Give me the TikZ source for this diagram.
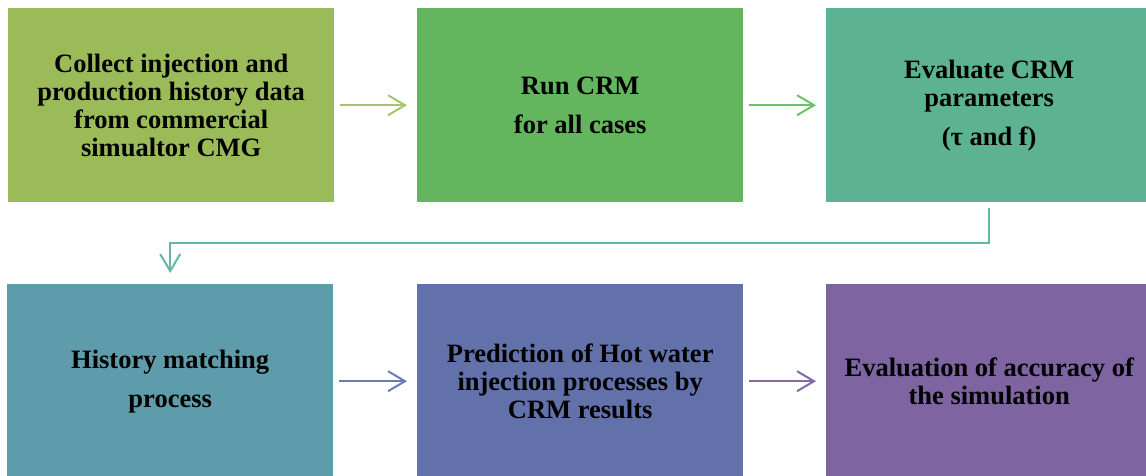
\documentclass[tikz,border=0pt]{standalone}
\usepackage{fontspec}
\setmainfont{Liberation Serif}
\usetikzlibrary{arrows.meta}
\definecolor{c1}{HTML}{9BBB59}
\definecolor{c2}{HTML}{63B65E}
\definecolor{c3}{HTML}{5CB292}
\definecolor{c4}{HTML}{5E9CAB}
\definecolor{c5}{HTML}{6271AA}
\definecolor{c6}{HTML}{7E64A0}
\definecolor{a1}{HTML}{A7C46C}
\definecolor{a2}{HTML}{6CC06A}
\definecolor{a3}{HTML}{63B7A8}
\definecolor{a4}{HTML}{6B7CB4}
\definecolor{a5}{HTML}{8468AA}
\tikzset{
  box/.style={rectangle, draw=none, minimum width=326pt, minimum height=194pt, inner sep=0pt,
    anchor=north west, align=center,
    font=\fontsize{26.5}{28}\selectfont\bfseries},
  conn/.style={line width=2pt, -{Straight Barb[length=17pt,width=20pt,line width=2pt]}}
}
\begin{document}
\begin{tikzpicture}[x=1pt,y=-1pt]
\useasboundingbox (0,0) rectangle (1146,475);
\node[box, fill=c1] (b1) at (8,8) {Collect injection and\\production history data\\from commercial\\simualtor CMG};
\node[box, fill=c2] (b2) at (417,8) {Run CRM\\[11pt]for all cases};
\node[box, fill=c3] (b3) at (826,8) {Evaluate CRM\\parameters\\[11pt](τ and f)};
\node[box, fill=c4] (b4) at (7,284) {History matching\\[11pt]process};
\node[box, fill=c5] (b5) at (417,284) {Prediction of Hot water\\injection processes by\\CRM results};
\node[box, fill=c6] (b6) at (826,284) {Evaluation of accuracy of\\the simulation};
\draw[conn, a1] ([xshift=6pt]b1.east) -- ([xshift=-10pt]b2.west);
\draw[conn, a2] ([xshift=6pt]b2.east) -- ([xshift=-10pt]b3.west);
\draw[conn, a3] ([yshift=-6pt]b3.south) -- ++(0,35) -| ([yshift=11pt]b4.north);
\draw[conn, a4] ([xshift=6pt]b4.east) -- ([xshift=-10pt]b5.west);
\draw[conn, a5] ([xshift=6pt]b5.east) -- ([xshift=-10pt]b6.west);
\end{tikzpicture}
\end{document}
